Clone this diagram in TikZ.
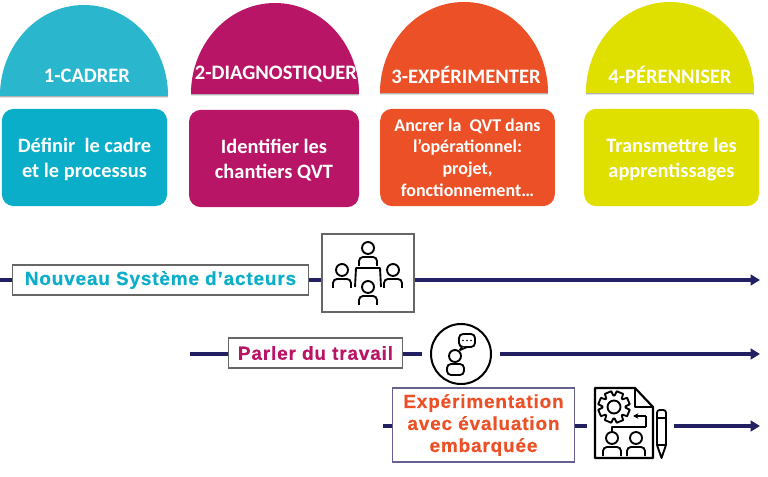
\documentclass[tikz,border=0pt]{standalone}
\usepackage{fontspec}
\setmainfont{Carlito}
\newfontfamily\labelfont[LetterSpace=4.5,BoldFeatures={FakeBold=0.5}]{Liberation Sans}
\usetikzlibrary{arrows.meta}
\definecolor{tealdome}{HTML}{2AB7CE}
\definecolor{tealbox}{HTML}{0AAEC9}
\definecolor{magentaqvt}{HTML}{B91566}
\definecolor{orangeqvt}{HTML}{EC5026}
\definecolor{yellowqvt}{HTML}{DFDF00}
\definecolor{linenavy}{HTML}{231F63}
\newcommand{\toppad}{\rule{0pt}{13.5pt}}
\tikzset{
  dometitle/.style={text=white, font=\fontsize{15.4}{16}\selectfont\bfseries},
  stagebox/.style={rounded corners=9pt, text=white, align=center, inner sep=0pt,
    font=\fontsize{15.3}{18.6}\selectfont\bfseries},
  labelbox/.style={draw=black!60, fill=white, line width=0.8pt, align=center, inner sep=0pt,
    font=\fontsize{14.2}{16.5}\labelfont\bfseries},
  timeline/.style={linenavy, line width=2.6pt},
  timearrow/.style={timeline, -{Stealth[length=7pt,width=8pt,inset=0pt]}},
  iconline/.style={black, line width=1.4pt, line join=round},
  person/.pic={
    \draw[iconline] (0,0) circle (6);
    \draw[iconline, rounded corners=3pt] (-9,18) -- (-9,9) -- (9,9) -- (9,18);
  }
}
\begin{document}
\begin{tikzpicture}[x=0.75pt,y=-0.75pt]
  \useasboundingbox (0,0) rectangle (768,477);

  % Domes with a thin shadow
  \foreach \left/\base/\col in {0/96/tealdome, 191/94/magentaqvt, 380/93/orangeqvt, 586/93/yellowqvt} {
    \fill[black!30] (\left,\base+1.5) arc[start angle=180, end angle=360, x radius=84, y radius=91] -- cycle;
    \fill[\col] (\left,\base) arc[start angle=180, end angle=360, x radius=84, y radius=91] -- cycle;
  }

  % Stage titles
  \node[dometitle] (cadrer) at (87,76) {1-CADRER};
  \node[dometitle] (diagnostiquer) at (276,74) {2-DIAGNOSTIQUER};
  \node[dometitle] (experimenter) at (466,75) {3-EXPÉRIMENTER};
  \node[dometitle] (perenniser) at (670,75) {4-PÉRENNISER};

  % Stage boxes
  \node[stagebox, fill=tealbox, minimum width=124pt, minimum height=73pt] (cadrebox) at (84.5,157.5) {\toppad Définir\ \ le cadre\\et le processus};
  \node[stagebox, fill=magentaqvt, minimum width=127.5pt, minimum height=73pt] (chantierbox) at (274,158.5) {\toppad Identifier les\\chantiers QVT};
  \node[stagebox, fill=orangeqvt, minimum width=131pt, minimum height=73pt, font=\fontsize{13.5}{16.3}\selectfont\bfseries] (ancrerbox) at (467.5,157.5) {Ancrer la\ \ QVT dans\\l’opérationnel:\\projet,\\fonctionnement…};
  \node[stagebox, fill=yellowqvt, minimum width=131pt, minimum height=73pt] (transmettrebox) at (671.5,157.5) {\toppad Transmettre les\\apprentissages};

  % Label boxes and icon frames
  \node[labelbox, text=tealbox, minimum width=222.5pt, minimum height=22.5pt] (acteurs) at (160.5,280) {Nouveau Système d’acteurs};
  \node[draw=black!60, fill=white, line width=0.8pt, minimum width=69pt, minimum height=58.5pt] (reunion) at (368,273) {};
  \node[labelbox, text=magentaqvt, minimum width=131pt, minimum height=22.5pt] (travail) at (315.5,353) {Parler du travail};
  \node[draw=black, fill=white, line width=1.5pt, circle, minimum size=45pt, inner sep=0pt] (parole) at (461,354) {};
  \node[labelbox, draw=linenavy!70, text=orangeqvt, minimum width=137pt, minimum height=55.5pt] (evaluation) at (483.5,425) {Expérimentation\\avec évaluation\\embarquée};

  % Timelines
  \coordinate (acteursstart) at (0,280);
  \coordinate (acteursend) at (760,280);
  \coordinate (travailstart) at (190,354);
  \coordinate (travailstop) at (422,354);
  \coordinate (travailresume) at (500,354);
  \coordinate (travailend) at (760,354);
  \coordinate (evalstart) at (383,426);
  \coordinate (evalstop) at (587,426);
  \coordinate (evalresume) at (674,426);
  \coordinate (evalend) at (760,426);
  \draw[timeline] (acteursstart) -- (acteurs);
  \draw[timeline] (acteurs) -- (reunion.west |- acteurs);
  \draw[timearrow] (reunion.east |- acteursend) -- (acteursend);
  \draw[timeline] (travailstart) -- (travail.west |- travailstart);
  \draw[timeline] (travail.east |- travailstart) -- (travailstop);
  \draw[timearrow] (travailresume) -- (travailend);
  \draw[timeline] (evalstart) -- (evaluation.west |- evalstart);
  \draw[timeline] (evaluation.east |- evalstart) -- (evalstop);
  \draw[timearrow] (evalresume) -- (evalend);

  % Meeting icon
  \pic at (368,248) {person};
  \pic at (342,270) {person};
  \pic at (393,270) {person};
  \draw[iconline] (355,287) -- (356,268) -- (380,268) -- (381,287);
  \fill[white] (358,278) rectangle (378,306);
  \pic at (368,287) {person};

  % Speech icon
  \draw[iconline, rounded corners=3pt] (459,334) rectangle (475,347);
  \draw[iconline, fill=white] (462,347) -- (460,350) -- (467,347);
  \foreach \dotx in {463,467,471} \fill (\dotx,340.5) circle (0.9);
  \draw[iconline] (455,356) circle (6);
  \draw[iconline, rounded corners=3pt] (447,375) -- (447,364) -- (464,364) -- (464,375) -- cycle;

  % Document icon
  \draw[iconline, line width=1.6pt] (635,388) -- (595,388) -- (595,458) -- (653,458) -- (653,407) -- cycle;
  \draw[iconline] (635,388) -- (635,407) -- (653,407);
  \draw[iconline, fill=white, shift={(614,407)}] (3:11.5) \foreach \toothangle in {0,45,...,315} { -- (\toothangle+3:11.5) -- (\toothangle+10:16) -- (\toothangle+35:16) -- (\toothangle+42:11.5)} -- cycle;
  \draw[iconline] (614,407) circle (6.5);
  \draw[iconline] (646,427) -- (646,416);
  \draw[iconline, -{Stealth[length=4pt,width=4pt]}] (646,416) -- (633,416);
  \draw[iconline] (646,427) -- (612,427) -- (612,432);
  \pic at (612,438) {person};
  \pic at (636,438) {person};
  \draw[iconline, rounded corners=2pt] (657,445) -- (657,410) -- (666,410) -- (666,445);
  \draw[iconline] (657,418) -- (666,418);
  \draw[iconline] (657,445) -- (666,445) -- (661.5,458) -- cycle;
\end{tikzpicture}
\end{document}
